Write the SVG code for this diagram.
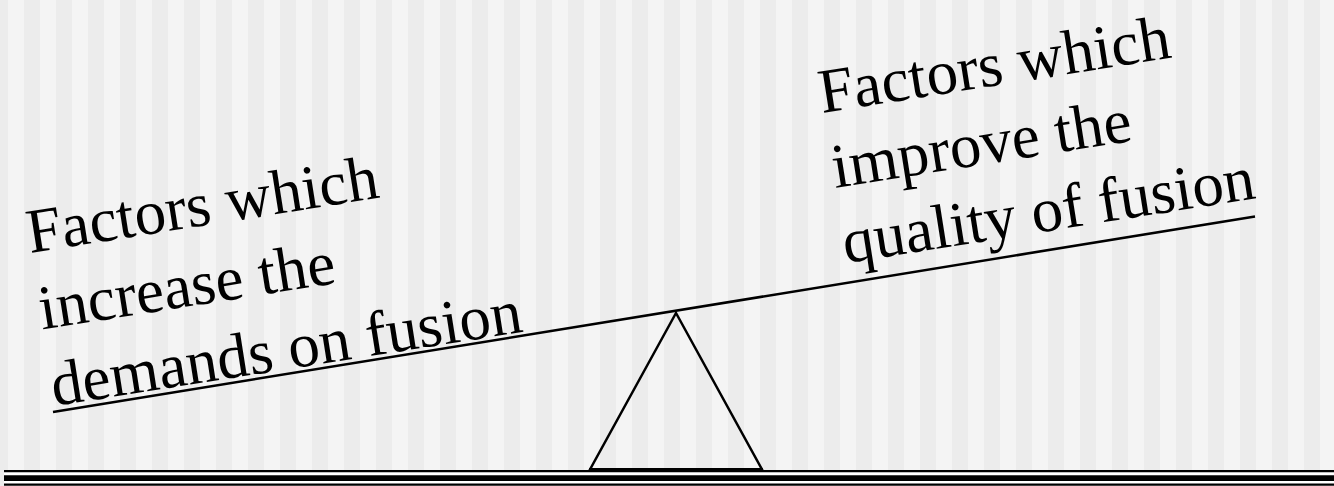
<svg xmlns="http://www.w3.org/2000/svg" width="1334" height="486" viewBox="0 0 1334 486">
  <defs>
    <pattern id="stripes" patternUnits="userSpaceOnUse" x="0" y="0" width="32" height="486">
      <rect width="32" height="486" fill="#ececec"/>
      <rect x="8" width="16" height="486" fill="#f4f4f4"/>
    </pattern>
  </defs>
  <style>
    .ln { stroke: #000; fill: none; }
    .lbl { font-family: "Liberation Serif", "Times New Roman", serif; font-size: 63px; fill: #000; }
  </style>
  <rect width="1334" height="486" fill="url(#stripes)"/>

  <g id="ground">
    <rect x="4" y="470" width="1330" height="16" fill="#ffffff"/>
    <line class="ln" x1="4" y1="471.2" x2="1334" y2="471.2" stroke-width="2.2"/>
    <line class="ln" x1="4" y1="478.2" x2="1334" y2="478.2" stroke-width="5.8"/>
    <line class="ln" x1="4" y1="484.6" x2="1334" y2="484.6" stroke-width="2.2"/>
  </g>

  <g id="fulcrum">
    <polygon class="ln" points="676,313 590,469.5 762,469.5" stroke-width="2.5" stroke-linejoin="miter"/>
    <line class="ln" x1="589" y1="470" x2="763" y2="470" stroke-width="4"/>
  </g>

  <g id="beam">
    <line class="ln" x1="53" y1="412" x2="1255" y2="216.5" stroke-width="2.5"/>
  </g>

  <g id="left-label" transform="translate(30,253) rotate(-9)">
    <text class="lbl" x="0" y="0">Factors which</text>
    <text class="lbl" x="0" y="77.5">increase the</text>
    <text class="lbl" x="0" y="155">demands on fusion</text>
  </g>

  <g id="right-label" transform="translate(822,113) rotate(-9)">
    <text class="lbl" x="0" y="0">Factors which</text>
    <text class="lbl" x="1" y="76">improve the</text>
    <text class="lbl" x="0" y="152">quality of fusion</text>
  </g>
</svg>
